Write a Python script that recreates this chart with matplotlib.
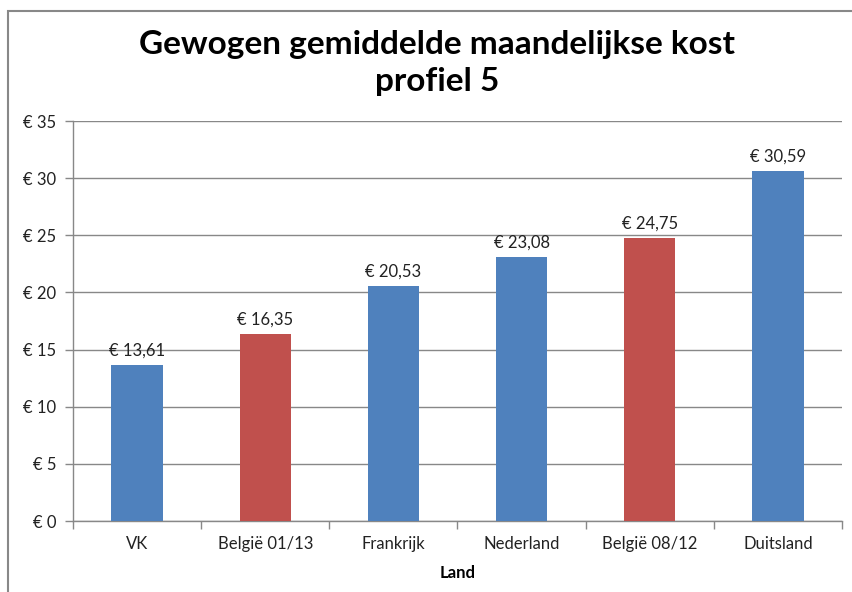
import matplotlib
matplotlib.use("Agg")
import matplotlib.pyplot as plt
from matplotlib.patches import Rectangle
from matplotlib.ticker import FixedLocator

categories = ["VK", "België 01/13", "Frankrijk", "Nederland", "België 08/12", "Duitsland"]
values = [13.61, 16.35, 20.53, 23.08, 24.75, 30.59]
colors = ["#4F81BD", "#C0504D", "#4F81BD", "#4F81BD", "#C0504D", "#4F81BD"]
yticks = [0, 5, 10, 15, 20, 25, 30, 35]
title = "Gewogen gemiddelde maandelijkse kost\nprofiel 5"
xlabel = "Land"

plt.rcParams['font.family'] = ['Lato', 'DejaVu Sans']

fig = plt.figure(figsize=(8.52, 5.92), dpi=100)
ax = fig.add_axes([73/852, 1-521/592, (842-73)/852, (521-121)/592])

x = list(range(len(categories)))
ax.bar(x, values, width=0.4, color=colors, linewidth=0, zorder=3)

ax.set_xlim(-0.5, len(categories) - 0.5)
ax.set_ylim(0, 35)
ax.set_yticks(yticks)
ax.set_yticklabels([f"€ {v}" for v in yticks], fontsize=12, color="#222222")
ax.set_xticks(x)
ax.set_xticklabels(categories, fontsize=12, color="#222222")
ax.xaxis.set_minor_locator(FixedLocator([i - 0.5 for i in range(len(categories) + 1)]))
ax.tick_params(axis='x', which='major', length=0, pad=11)
ax.tick_params(axis='x', which='minor', length=6, color="#888888", width=1)
ax.tick_params(axis='y', length=6, color="#888888", width=1, pad=6)

ax.grid(axis='y', color="#888888", linewidth=1, zorder=0)
for s in ["top", "right"]:
    ax.spines[s].set_visible(False)
for s in ["left", "bottom"]:
    ax.spines[s].set_color("#888888")
    ax.spines[s].set_linewidth(1)

for xi, v in zip(x, values):
    ax.annotate(f"€ {v:.2f}".replace(".", ","), (xi, v), xytext=(0, 5),
                textcoords="offset points", ha="center", va="bottom", fontsize=12, color="#222222")

ax.set_xlabel(xlabel, fontsize=12, fontweight="bold", labelpad=9)

fig.text(437/852, 1-63/592, title, ha="center", va="center", fontsize=24,
         fontweight="bold", linespacing=1.3)

fig.patches.append(Rectangle((8/852, -0.1), 1.2, 1.1 - 11/592, transform=fig.transFigure,
                             fill=False, edgecolor="#888888", linewidth=1.5, zorder=10))

fig.savefig("out.png", dpi=100)
